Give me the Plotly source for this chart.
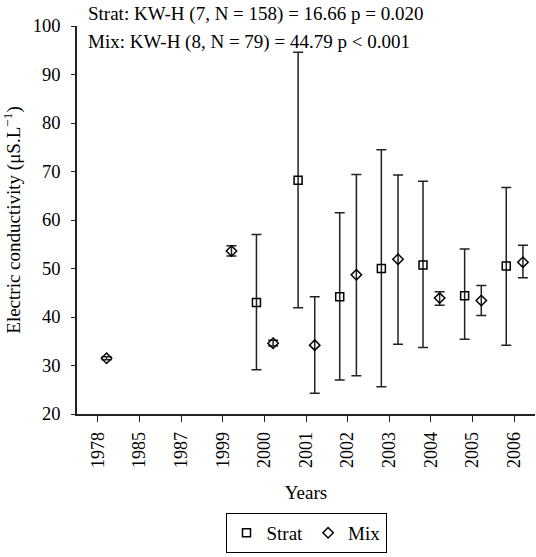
import plotly.graph_objects as go

years = ["1978", "1985", "1987", "1999", "2000", "2001", "2002", "2003", "2004", "2005", "2006"]
strat_mean = [None, None, None, None, 43.0, 68.2, 44.2, 50.0, 50.7, 44.4, 50.5]
strat_hi = [None, None, None, None, 57.0, 94.6, 61.5, 74.5, 68.0, 54.0, 66.7]
strat_lo = [None, None, None, None, 29.1, 41.9, 27.0, 25.6, 33.7, 35.4, 34.2]
mix_mean = [31.5, None, None, 53.6, 34.6, 34.2, 48.7, 51.9, 43.9, 43.4, 51.3]
mix_hi = [31.8, None, None, 54.7, 35.2, 44.2, 69.4, 69.3, 45.2, 46.5, 54.8]
mix_lo = [31.2, None, None, 52.6, 34.0, 24.3, 27.9, 34.4, 42.4, 40.3, 48.1]

stats_lines = ["Strat: KW-H (7, N = 158) = 16.66 p = 0.020",
               "Mix: KW-H (8, N = 79) = 44.79 p < 0.001"]

FONT = "Liberation Serif, Times New Roman, serif"


def err(mean, hi, lo):
    plus = [None if m is None else h - m for m, h in zip(mean, hi)]
    minus = [None if m is None else m - l for m, l in zip(mean, lo)]
    return plus, minus


idx = list(range(len(years)))
sp, sm = err(strat_mean, strat_hi, strat_lo)
mp, mm = err(mix_mean, mix_hi, mix_lo)

fig = go.Figure()
fig.add_trace(go.Scatter(
    x=[i - 0.19 for i in idx], y=strat_mean, mode="markers", name="Strat", cliponaxis=False,
    marker=dict(symbol="square-open", size=8, color="black", line=dict(width=1.5, color="black")),
    error_y=dict(type="data", array=sp, arrayminus=sm, color="#222", thickness=1.5, width=5),
))
fig.add_trace(go.Scatter(
    x=[i + 0.21 for i in idx], y=mix_mean, mode="markers", name="Mix", cliponaxis=False,
    marker=dict(symbol="diamond-open", size=8, color="black", line=dict(width=1.5, color="black")),
    error_y=dict(type="data", array=mp, arrayminus=mm, color="#222", thickness=1.5, width=5),
))

for txt, yp in zip(stats_lines, [1.031, 0.959]):
    fig.add_annotation(text=txt, xref="paper", yref="paper", x=0.019, y=yp,
                       xanchor="left", yanchor="middle", showarrow=False,
                       font=dict(family=FONT, size=19, color="black"))

fig.update_layout(
    width=536, height=557,
    margin=dict(l=77, r=1, t=26, b=143),
    paper_bgcolor="white", plot_bgcolor="white",
    font=dict(family=FONT, size=18, color="black"),
    showlegend=True,
    legend=dict(orientation="h", x=0.5, xanchor="center", y=-0.255, yanchor="top",
                bordercolor="black", borderwidth=1, font=dict(family=FONT, size=19),
                itemwidth=30, tracegroupgap=0),
    xaxis=dict(range=[-0.5, 10.5], tickmode="array", tickvals=idx, ticktext=years,
               tickangle=-90, showgrid=False, zeroline=False, showline=True, automargin=False,
               linecolor="#222", linewidth=1.5, ticks="outside", ticklen=6, tickwidth=1.2,
               tickcolor="#222", tickfont=dict(family=FONT, size=18), ticklabelstandoff=3,
               title=dict(text="Years", font=dict(family=FONT, size=19), standoff=19)),
    yaxis=dict(range=[20, 100], tickvals=[20, 30, 40, 50, 60, 70, 80, 90, 100],
               showgrid=False, zeroline=False, showline=True, automargin=False,
               linecolor="#222", linewidth=1.5, ticks="outside", ticklen=4, tickwidth=1.2,
               tickcolor="#222", tickfont=dict(family=FONT, size=18.5), ticklabelstandoff=7,
               title=dict(text="Electric conductivity (μS.L<sup>−1</sup>)",
                          font=dict(family=FONT, size=19), standoff=8)),
)

fig.write_html("out.html", config={"displayModeBar": False})

# remove the browser's default 8px body margin so the figure sits at the page origin
with open("out.html", "r", encoding="utf-8") as f:
    html = f.read()
html = html.replace("<head>", "<head><style>html,body{margin:0;padding:0;}</style>", 1)
with open("out.html", "w", encoding="utf-8") as f:
    f.write(html)
